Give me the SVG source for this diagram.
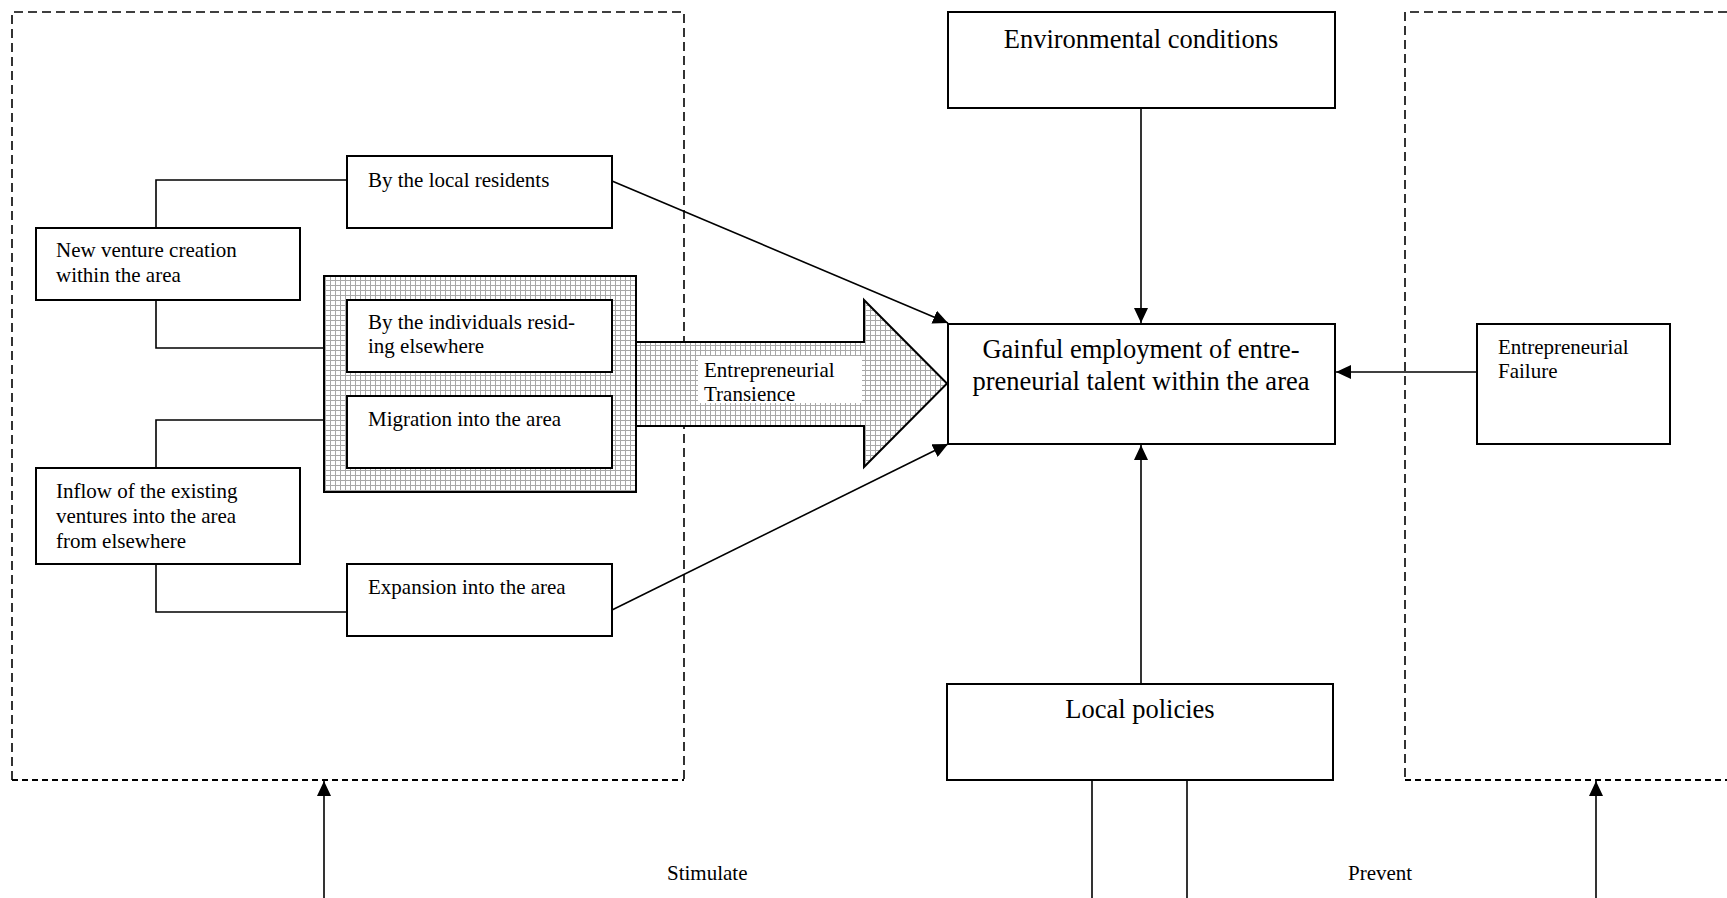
<svg xmlns="http://www.w3.org/2000/svg" width="1727" height="898" viewBox="0 0 1727 898">
<style>
.box{fill:#fff;stroke:#000;stroke-width:2}
.t{font-family:"Liberation Serif","Times New Roman",serif;font-size:21px;fill:#000}
.tl{font-family:"Liberation Serif","Times New Roman",serif;font-size:26.5px;fill:#000}
.ln{fill:none;stroke:#000;stroke-width:1.6}
.dash{fill:none;stroke:#000;stroke-width:1.6;stroke-dasharray:9,5}
.dot{fill:none;stroke:#000;stroke-width:2;stroke-dasharray:6,4}
</style>
<defs>
<pattern id="hatch" width="5" height="5" patternUnits="userSpaceOnUse">
<rect width="5" height="5" fill="#fff"/>
<path d="M0,0.5 H5 M0.5,0 V5" stroke="#a8a8a8" stroke-width="1"/>
</pattern>
<marker id="ah" markerUnits="userSpaceOnUse" markerWidth="16" markerHeight="14" refX="15" refY="7" orient="auto">
<path d="M0,0 L15,7 L0,14 z" fill="#000"/>
</marker>
</defs>
<rect width="1727" height="898" fill="#fff"/>

<g id="region-left">
<path class="dash" d="M12,780 V12 H684 V780"/>
<path class="dot" d="M12,780 H684"/>
</g>
<g id="region-right">
<path class="dash" d="M1727,12 H1405 V780"/>
<path class="dot" d="M1405,780 H1727"/>
</g>

<g id="transience-frame">
<rect x="324" y="276" width="312" height="216" fill="url(#hatch)" stroke="#000" stroke-width="2"/>
</g>

<g id="transience-arrow">
<rect x="612" y="342" width="24" height="84" fill="url(#hatch)" opacity="0.9"/>
<polygon points="636,342 864,342 864,300 947,383.5 864,467 864,426 636,426" fill="url(#hatch)" stroke="#000" stroke-width="2"/>
<rect x="698" y="356" width="164" height="47" fill="#fff"/>
<text class="t" x="704" y="377">Entrepreneurial</text>
<text class="t" x="704" y="401">Transience</text>
</g>

<g id="connectors">
<path class="ln" d="M156,228 V180 H347"/>
<path class="ln" d="M156,300 V348 H324"/>
<path class="ln" d="M156,468 V420 H324"/>
<path class="ln" d="M156,564 V612 H347"/>
<path class="ln" d="M612,181 L948,323" marker-end="url(#ah)"/>
<path class="ln" d="M612,610 L948,444" marker-end="url(#ah)"/>
<path class="ln" d="M1141,108 V323" marker-end="url(#ah)"/>
<path class="ln" d="M1141,684 V445" marker-end="url(#ah)"/>
<path class="ln" d="M1477,372 H1336" marker-end="url(#ah)"/>
<path class="ln" d="M1092,780 V898"/>
<path class="ln" d="M1187,780 V898"/>
<path class="ln" d="M324,898 V781" marker-end="url(#ah)"/>
<path class="ln" d="M1596,898 V781" marker-end="url(#ah)"/>
</g>

<g id="new-venture">
<rect class="box" x="36" y="228" width="264" height="72"/>
<text class="t" x="56" y="257">New venture creation</text>
<text class="t" x="56" y="282">within the area</text>
</g>
<g id="local-residents">
<rect class="box" x="347" y="156" width="265" height="72"/>
<text class="t" x="368" y="187">By the local residents</text>
</g>
<g id="individuals-elsewhere">
<rect class="box" x="347" y="300" width="265" height="72"/>
<text class="t" x="368" y="329">By the individuals resid-</text>
<text class="t" x="368" y="353">ing elsewhere</text>
</g>
<g id="migration">
<rect class="box" x="347" y="396" width="265" height="72"/>
<text class="t" x="368" y="426">Migration into the area</text>
</g>
<g id="inflow">
<rect class="box" x="36" y="468" width="264" height="96"/>
<text class="t" x="56" y="498">Inflow of the existing</text>
<text class="t" x="56" y="523">ventures into the area</text>
<text class="t" x="56" y="548">from elsewhere</text>
</g>
<g id="expansion">
<rect class="box" x="347" y="564" width="265" height="72"/>
<text class="t" x="368" y="594">Expansion into the area</text>
</g>

<g id="environmental">
<rect class="box" x="948" y="12" width="387" height="96"/>
<text class="tl" x="1141" y="48" text-anchor="middle">Environmental conditions</text>
</g>
<g id="gainful">
<rect class="box" x="948" y="324" width="387" height="120"/>
<text class="tl" x="1141" y="358" text-anchor="middle">Gainful employment of entre-</text>
<text class="tl" x="1141" y="390" text-anchor="middle">preneurial talent within the area</text>
</g>
<g id="failure">
<rect class="box" x="1477" y="324" width="193" height="120"/>
<text class="t" x="1498" y="354">Entrepreneurial</text>
<text class="t" x="1498" y="378">Failure</text>
</g>
<g id="local-policies">
<rect class="box" x="947" y="684" width="386" height="96"/>
<text class="tl" x="1140" y="718" text-anchor="middle">Local policies</text>
</g>

<g id="labels">
<text class="t" x="667" y="880">Stimulate</text>
<text class="t" x="1348" y="880">Prevent</text>
</g>
</svg>
